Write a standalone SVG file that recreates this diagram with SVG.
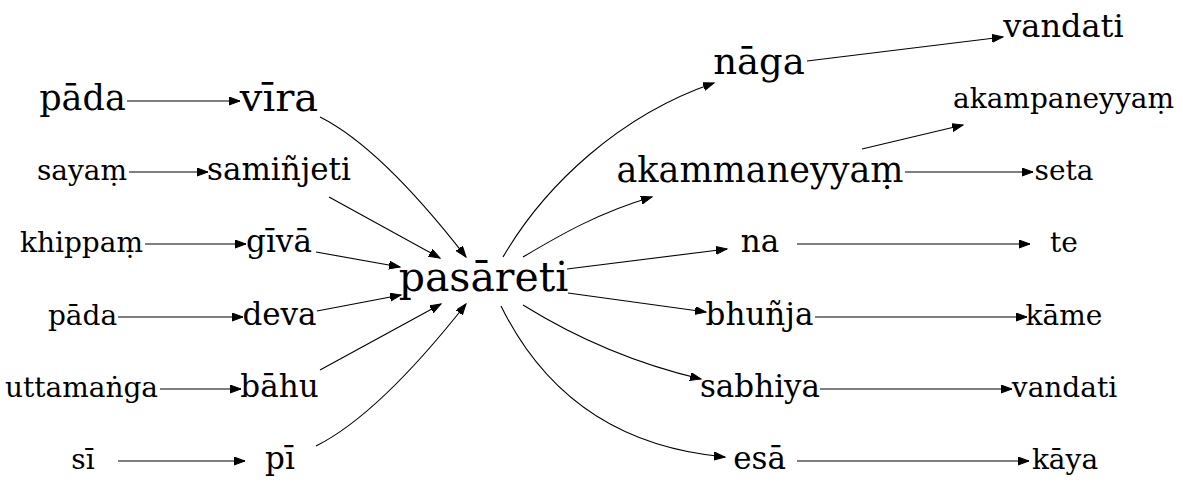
<svg xmlns="http://www.w3.org/2000/svg" width="1183" height="491" viewBox="0 0 1183 491">
<style>
text{font-family:"DejaVu Serif",serif;fill:#000;text-anchor:middle}
.s{font-size:28px}.m{font-size:31px}
.e{fill:none;stroke:#000;stroke-width:1.1;marker-end:url(#ah)}
</style>
<defs>
<marker id="ah" markerUnits="userSpaceOnUse" markerWidth="13" markerHeight="10" refX="11" refY="4" orient="auto">
<path d="M0,0 L11,4 L0,8 z" fill="#000" stroke="#000" stroke-width="1"/>
</marker>
</defs>
<rect width="1183" height="491" fill="#fff"/>
<g id="edges">
<path class="e" d="M127,101 L240,101"/>
<path class="e" d="M129,172 L208,172"/>
<path class="e" d="M145,244 L246,244"/>
<path class="e" d="M118,317 L243,317"/>
<path class="e" d="M160,389 L241,389"/>
<path class="e" d="M118,461 L245,461"/>
<path class="e" d="M320,117 C360,137 410,185 466,257"/>
<path class="e" d="M329,197 L440,258"/>
<path class="e" d="M316,252 L400,267"/>
<path class="e" d="M317,311 L401,295"/>
<path class="e" d="M320,370 L441,304"/>
<path class="e" d="M316,446 C360,424 410,375 466,304"/>
<path class="e" d="M503,257 C545,185 620,115 714,83"/>
<path class="e" d="M523,257 C560,235 600,212 652,197"/>
<path class="e" d="M567,269 L727,249"/>
<path class="e" d="M568,293 L706,312"/>
<path class="e" d="M523,305 C560,328 620,360 701,379"/>
<path class="e" d="M501,306 C530,365 590,445 725,457"/>
<path class="e" d="M807,61 L1003,37"/>
<path class="e" d="M862,149 L963,125"/>
<path class="e" d="M905,172 L1033,172"/>
<path class="e" d="M797,244 L1030,244"/>
<path class="e" d="M815,317 L1027,317"/>
<path class="e" d="M820,389 L1012,389"/>
<path class="e" d="M797,461 L1029,461"/>
</g>
<g id="n_pada1"><text x="82.5" y="110" font-size="35">pāda</text></g>
<g id="n_sayam"><text class="s" x="82" y="180">sayaṃ</text></g>
<g id="n_khippam"><text class="s" x="81.5" y="252">khippaṃ</text></g>
<g id="n_pada2"><text class="s" x="82.5" y="325">pāda</text></g>
<g id="n_uttamanga"><text class="s" x="81.5" y="397">uttamaṅga</text></g>
<g id="n_si"><text class="s" x="83" y="469">sī</text></g>
<g id="n_vira"><text x="279" y="111" font-size="40">vīra</text></g>
<g id="n_saminjeti"><text class="m" x="279" y="180">samiñjeti</text></g>
<g id="n_giva"><text class="m" x="279" y="252">gīvā</text></g>
<g id="n_deva"><text class="m" x="279.5" y="325">deva</text></g>
<g id="n_bahu"><text class="m" x="279.5" y="397">bāhu</text></g>
<g id="n_pi"><text class="m" x="280" y="469">pī</text></g>
<g id="n_pasareti"><text x="483.5" y="291" font-size="41">pasāreti</text></g>
<g id="n_naga"><text x="759" y="74" font-size="37">nāga</text></g>
<g id="n_akammaneyyam"><text x="760" y="182" font-size="35">akammaneyyaṃ</text></g>
<g id="n_na"><text class="m" x="760" y="252">na</text></g>
<g id="n_bhunja"><text class="m" x="759.5" y="325">bhuñja</text></g>
<g id="n_sabhiya"><text class="m" x="760" y="397">sabhiya</text></g>
<g id="n_esa"><text class="m" x="759.5" y="469">esā</text></g>
<g id="n_vandati1"><text x="1063.5" y="37" font-size="32">vandati</text></g>
<g id="n_akampaneyyam"><text class="s" x="1063.5" y="108">akampaneyyaṃ</text></g>
<g id="n_seta"><text class="s" x="1064" y="180">seta</text></g>
<g id="n_te"><text class="s" x="1064" y="252">te</text></g>
<g id="n_kame"><text class="s" x="1064" y="325">kāme</text></g>
<g id="n_vandati2"><text class="s" x="1064.5" y="397">vandati</text></g>
<g id="n_kaya"><text class="s" x="1065" y="469">kāya</text></g>
</svg>
